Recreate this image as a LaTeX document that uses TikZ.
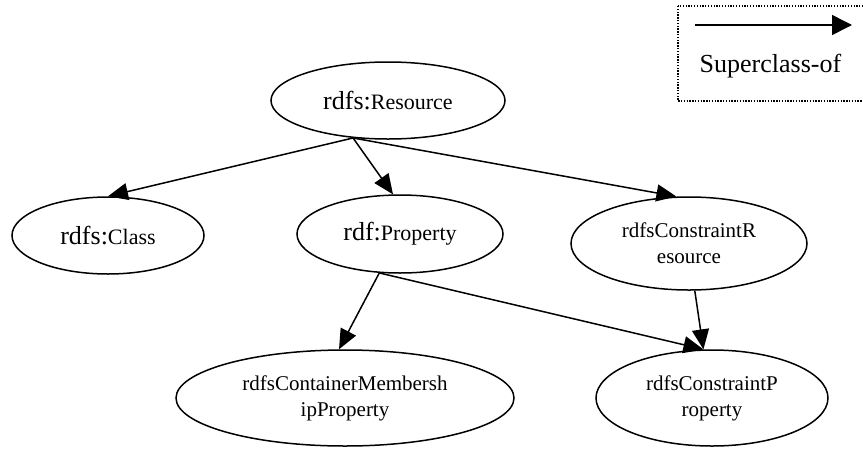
\documentclass[tikz,border=0pt]{standalone}
\usepackage{fontspec}
\setmainfont{Liberation Serif}
\usetikzlibrary{shapes.geometric,arrows.meta}

% namespace prefix and local name in two sizes
\newcommand\nsprefix[1]{{\fontsize{26}{30}\selectfont #1}}
\newcommand\nslocal[1]{{\fontsize{22}{26}\selectfont #1}}

\begin{document}
\begin{tikzpicture}[x=1pt,y=-1pt,
  cls/.style={ellipse, draw, line width=1.5pt, inner sep=0pt, align=center,
    font=\fontsize{21}{26}\selectfont},
  sub/.style={-{Triangle[length=20pt,width=17pt]}, line width=1.5pt}]
\useasboundingbox (0,0) rectangle (863,448);

% legend
\draw[line width=1.3pt, dash pattern=on 1.3pt off 1.5pt] (678,6) rectangle (880,101);
\coordinate (la) at (695,25);
\coordinate (lb) at (852,25);
\draw[-{Triangle[length=20pt,width=20pt]}, line width=1.5pt] (la) -- (lb);
\node[anchor=base, font=\fontsize{26}{30}\selectfont] (lt) at (770.5,72) {Superclass-of};

% classes
\node[cls, minimum width=234pt, minimum height=77pt] (res) at (388,100.5)
  {\nsprefix{rdfs:}\nslocal{Resource}};
\node[cls, minimum width=192pt, minimum height=77pt] (cls) at (108,235.5)
  {\nsprefix{rdfs:}\nslocal{Class}};
\node[cls, minimum width=206pt, minimum height=78pt] (prop) at (400,234)
  {\nsprefix{rdf:}\nslocal{Property}};
\node[cls, minimum width=236pt, minimum height=93pt] (cres) at (689,243.5)
  {rdfsConstraintR\\esource};
\node[cls, minimum width=338pt, minimum height=96pt] (cmp) at (345,398)
  {rdfsContainerMembersh\\ipProperty};
\node[cls, minimum width=232pt, minimum height=96pt] (cprop) at (712,398)
  {rdfsConstraintP\\roperty};

% superclass-of edges
\draw[sub] (res.-133) -- (cls.north);
\draw[sub] (res.-133) -- (prop.100);
\draw[sub] (res.-133) -- (cres.105);
\draw[sub] (prop.-118) -- (cmp.97);
\draw[sub] (prop.-118) -- (cprop.100);
\draw[sub] (cres.-83) -- (cprop.100);
\end{tikzpicture}
\end{document}
